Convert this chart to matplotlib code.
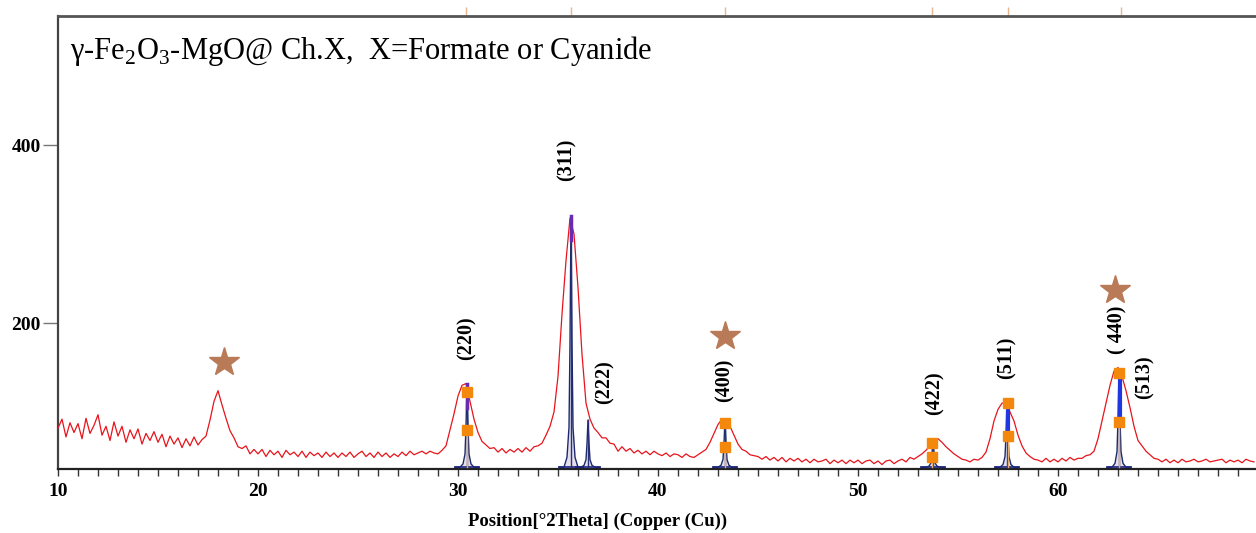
import numpy as np
import matplotlib
matplotlib.use('Agg')
import matplotlib.pyplot as plt

plt.rcParams['font.family'] = ['Liberation Serif', 'DejaVu Serif']

two_theta = np.round(np.arange(10.0, 69.81, 0.2), 1)
counts = [
    82, 92, 72, 88, 77,   87, 70, 93, 76, 85,   97, 74, 84, 68, 89,   # 10-12
    73, 84, 66, 80, 70,   81, 64, 76, 68, 78,   66, 75, 61, 73, 64,   # 13-15
    71, 60, 70, 62, 72,   63, 69, 73, 91, 112,                         # 16-17
    124, 108, 93, 79, 71,  61, 59, 62, 53, 58,                         # 18-19
    53, 58, 50, 57, 52,   56, 49, 57, 52, 55,   50, 56, 49, 55, 51,   # 20-22
    54, 49, 55, 50, 54,   49, 54, 50, 55, 49,   53, 56, 50, 54, 49,   # 23-25
    55, 50, 54, 49, 53,   50, 55, 51, 56, 52,   54, 56, 53, 56, 54,   # 26-28
    53, 57, 62, 80, 98,   118, 130, 132, 112, 92,                      # 29-30
    77, 67, 63, 59, 60,   55, 59, 54, 58, 55,   59, 55, 60, 56, 61,   # 31-33
    62, 65, 74, 84, 100,  140, 210, 270, 318, 300,                     # 34-35
    240, 165, 110, 92, 82, 77, 71, 71, 65, 64,                         # 36-37
    56, 61, 56, 59, 54,   57, 53, 56, 52, 56,   53, 51, 54, 50, 53,   # 38-40
    52, 49, 53, 50, 49,   52, 55, 58, 66, 76,                          # 41-42
    86, 92, 90, 84, 74,   64, 58, 56, 52, 51,                          # 43-44
    50, 47, 50, 46, 49,   45, 49, 44, 48, 45,   48, 44, 47, 43, 47,   # 45-47
    44, 45, 47, 42, 46,   43, 46, 42, 46, 43,   46, 42, 45, 46, 42,   # 48-50
    45, 41, 45, 46, 42,   45, 47, 44, 49, 47,                          # 51-52
    50, 53, 57, 62, 68,   70, 66, 61, 57, 53,                          # 53-54
    50, 47, 46, 44, 47,   46, 49, 55, 70, 90,                          # 55-56
    103, 110, 111, 100, 90, 74, 62, 54, 50, 47,                        # 57-58
    46, 44, 48, 44, 47,   44, 48, 45, 49, 46,                          # 59-60
    48, 48, 51, 52, 56,   70, 90, 110, 130, 146,                       # 61-62
    150, 140, 124, 105, 84, 68, 62, 56, 52, 48,                        # 63-64
    47, 44, 47, 43, 46,   43, 47, 44, 45, 47,   44, 45, 47, 44, 45,   # 65-67
    46, 47, 43, 46, 44,   46, 43, 47, 45, 44,                          # 68-69
]

# reference pattern peaks (navy profiles)
ref_pos = [30.45, 35.65, 36.5, 43.35, 53.75, 57.45, 63.05]
ref_height = [130, 318, 91, 92, 69, 112, 147]
ref_base = 38
# common peak shape: offset (deg) / fraction of height
shape_dx = [-0.6, -0.35, -0.2, -0.1, -0.05, 0.0, 0.05, 0.1, 0.2, 0.35, 0.6]
shape_frac = [0, 0, 0.04, 0.16, 0.5, 1.0, 0.5, 0.16, 0.04, 0, 0]

# orange squares (upper / lower per peak)
sq_x = [30.45, 30.45, 43.35, 43.35, 53.7, 53.7, 57.5, 57.5, 63.05, 63.05]
sq_y = [122, 80, 88, 61, 65, 50, 110, 73, 144, 89]

# blue sticks
stick_x = [57.5, 63.1]
stick_lo = [73, 89]
stick_hi = [110, 146]

# stars
star_x = [18.3, 43.35, 62.85]
star_y = [156, 186, 237]

# hkl labels
hkl = ['(220)', '(311)', '(222)', '(400)', '(422)', '(511)', '( 440)', '(513)']
hkl_x = [30.45, 35.45, 37.35, 43.35, 53.85, 57.45, 62.95, 64.35]
hkl_y = [183, 383, 134, 136, 121, 161, 192, 139]

# tan marks above the top axis
top_marks = [30.4, 35.65, 43.35, 53.7, 57.5, 63.15]

fig = plt.figure(figsize=(12.56, 5.33), dpi=100)
ax = fig.add_axes([58 / 1256, 64 / 533, 1 - 58 / 1256, (469 - 16) / 533])

# reference profiles
for p, h in zip(ref_pos, ref_height):
    xs = [p + d for d in shape_dx]
    ys = [ref_base + f * (h - ref_base) for f in shape_frac]
    ax.fill_between(xs, ref_base, ys, color='#C8C0D8', alpha=0.5, lw=0, zorder=2)
    ax.plot(xs, ys, color='#1A2A6C', lw=1.0, zorder=3)
    ax.plot([p - 0.6, p + 0.6], [ref_base, ref_base], color='#1A237E', lw=1.2, zorder=3)
    ax.plot([p, p], [ref_base, h], color='#2B2F7A', lw=1.0, zorder=3)

# tan lines under the squares
for x0, y0 in zip(sq_x[1::2], sq_y[1::2]):
    ax.plot([x0, x0], [ref_base, y0], color='#E8B070', lw=1, zorder=3)

ax.plot(two_theta, counts, color='#E8141B', lw=0.9, zorder=4)

for x0, lo, hi in zip(stick_x, stick_lo, stick_hi):
    ax.plot([x0, x0], [lo, hi], color='#2036E0', lw=3, zorder=5)
for p, h in zip(ref_pos[:2], ref_height[:2]):
    ax.plot([p, p], [h - 25, h + 2], color='#6A2BB0', lw=2.5, zorder=5)

ax.plot(sq_x, sq_y, ls='none', marker='s', ms=7, color='#F4880C', zorder=6)
ax.plot(star_x, star_y, ls='none', marker='*', ms=22, color='#B97A57', zorder=6)

for t, x0, y0 in zip(hkl, hkl_x, hkl_y):
    ax.text(x0, y0, t, rotation=90, ha='center', va='center',
            fontsize=14.5, fontweight='bold')

ax.text(10.6, 506, 'γ-Fe$_\\mathregular{2}$O$_\\mathregular{3}$-MgO@ Ch.X,  X=Formate or Cyanide',
        fontsize=22, va='center', ha='left')

ax.set_xlim(10, 69.9)
ax.set_ylim(36, 545)
ax.set_xticks([10, 20, 30, 40, 50, 60])
ax.set_xticks(np.arange(11, 70, 1), minor=True)
ax.set_yticks([200, 400])
ax.tick_params(axis='x', which='both', direction='out', length=5, width=1, color='#333333',
               labelsize=14, pad=5)
ax.tick_params(axis='y', direction='out', length=11, width=1, color='#777777',
               labelsize=14, pad=1.5)
for lab in ax.get_xticklabels() + ax.get_yticklabels():
    lab.set_fontweight('bold')

ax.spines['right'].set_visible(False)
ax.spines['top'].set_color('#555555')
ax.spines['top'].set_linewidth(2)
ax.spines['left'].set_color('#444444')
ax.spines['left'].set_linewidth(1.6)
ax.spines['bottom'].set_color('#222222')
ax.spines['bottom'].set_linewidth(1.6)

sec = ax.secondary_xaxis('top')
sec.set_xticks(top_marks)
sec.tick_params(direction='out', length=6.5, width=1, color='#E8B48C', labeltop=False)
sec.spines['top'].set_visible(False)

fig.text(598 / 1256, 1 - 521 / 533, 'Position[°2Theta] (Copper (Cu))',
         fontsize=13.5, fontweight='bold', ha='center', va='center')

fig.savefig('out.png', dpi=100)
